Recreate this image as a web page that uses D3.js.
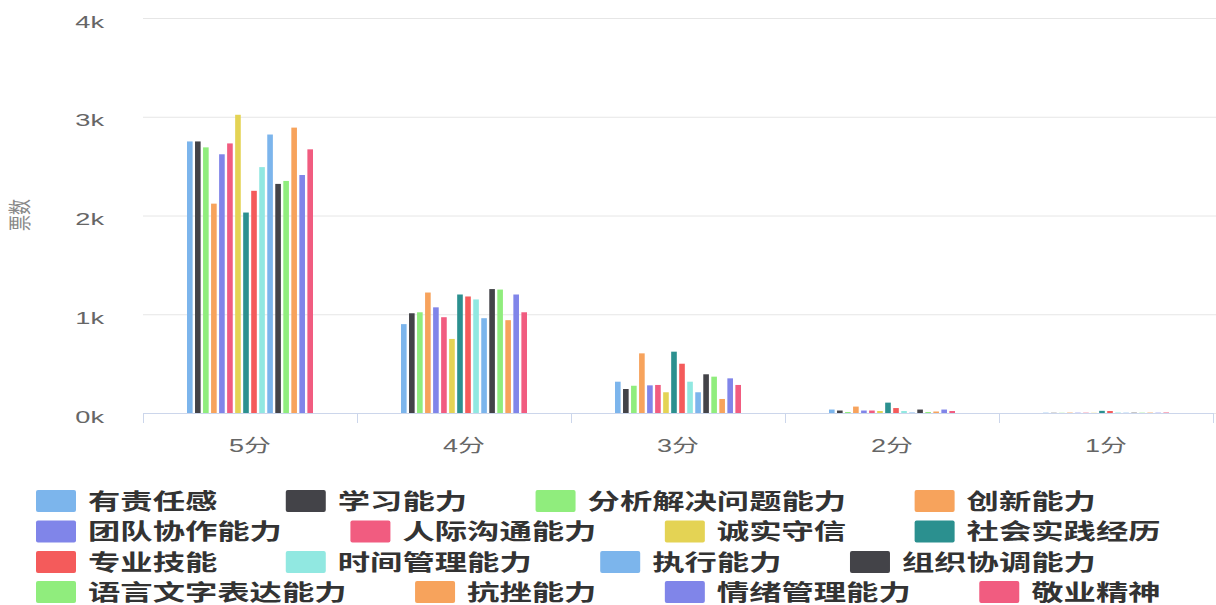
<!DOCTYPE html>
<html>
<head>
<meta charset="utf-8">
<script src="https://cdn.jsdelivr.net/npm/d3@7"></script>
<style>
  html, body { margin: 0; padding: 0; background: #fff; }
  svg { display: block; }
</style>
</head>
<body>
<svg id="chart" width="1216" height="605"></svg>
<script>
// ---------- DATA ----------
const categories = ['5分', '4分', '3分', '2分', '1分'];
const seriesNames = ['有责任感', '学习能力', '分析解决问题能力', '创新能力',
  '团队协作能力', '人际沟通能力', '诚实守信', '社会实践经历',
  '专业技能', '时间管理能力', '执行能力', '组织协调能力',
  '语言文字表达能力', '抗挫能力', '情绪管理能力', '敬业精神'];
const seriesColors = ['#7cb5ec', '#434348', '#90ed7d', '#f7a35c',
  '#8085e9', '#f15c80', '#e4d354', '#2b908f',
  '#f45b5b', '#91e8e1', '#7cb5ec', '#434348',
  '#90ed7d', '#f7a35c', '#8085e9', '#f15c80'];
// votes per score, one value per series (in seriesNames order)
const score5 = [2750, 2750, 2690, 2120, 2620, 2730, 3020, 2030, 2250, 2490, 2820, 2320, 2350, 2890, 2410, 2670];
const score4 = [900, 1010, 1020, 1220, 1070, 970, 750, 1200, 1180, 1150, 960, 1255, 1250, 940, 1200, 1020];
const score3 = [317, 243, 276, 604, 280, 284, 210, 621, 499, 317, 210, 392, 368, 142, 351, 284];
const score2 = [35, 25, 10, 65, 25, 25, 20, 105, 50, 20, 5, 35, 10, 15, 35, 20];
const score1 = [3, 2, 2, 4, 3, 3, 2, 22, 20, 5, 3, 3, 3, 4, 3, 5];
const yTicks = [0, 1000, 2000, 3000, 4000];
const yTitle = '票数';

// ---------- BUILD ----------
const byCategory = [score5, score4, score3, score2, score1];
const svg = d3.select('#chart');
const plot = { left: 143, right: 1213, top: 18, bottom: 413 };
const FONT = '"Liberation Sans", "DejaVu Sans", "Noto Sans CJK SC", sans-serif';
const CJK = '"Noto Sans CJK SC", "Noto Sans", sans-serif';

const x0 = d3.scaleBand().domain(categories).range([plot.left, plot.right]).padding(0);
const bw = x0.bandwidth();
const x1 = d3.scaleBand().domain(seriesNames).range([bw * 0.2, bw * 0.8]).paddingInner(0.3).paddingOuter(0.15);
const y = d3.scaleLinear().domain([0, 4000]).range([plot.bottom, plot.top]);

// gridlines
const grid = svg.append('g').attr('transform', `translate(${plot.left},0)`)
  .call(d3.axisLeft(y).tickValues(yTicks).tickSize(-(1216 - plot.left)).tickFormat(''));
grid.select('.domain').remove();
grid.selectAll('line').attr('stroke', '#e6e6e6').attr('stroke-width', 1);

// y labels
const sxY = 1.6;
const yAx = svg.append('g').attr('transform', `translate(${plot.left},0)`)
  .call(d3.axisLeft(y).tickValues(yTicks).tickSize(0).tickFormat(d => (d / 1000) + 'k'));
yAx.select('.domain').remove();
yAx.selectAll('text')
  .attr('font-family', FONT).attr('font-size', 17).attr('fill', '#666')
  .attr('text-anchor', 'end')
  .attr('x', -39 / sxY).attr('y', 3).attr('dy', '0.36em')
  .attr('transform', `scale(${sxY},1)`);

// y title
svg.append('text')
  .attr('transform', `translate(28,215) scale(1.4,1) rotate(-90)`)
  .attr('text-anchor', 'middle')
  .attr('font-family', CJK).attr('font-size', 16).attr('fill', '#888')
  .text(yTitle);

// bars
const groups = svg.append('g').selectAll('g.cat')
  .data(categories).join('g')
  .attr('class', 'cat')
  .attr('transform', d => `translate(${x0(d)},0)`);
groups.selectAll('rect')
  .data((c, ci) => seriesNames.map((s, si) => ({ s, si, v: byCategory[ci][si] })))
  .join('rect')
  .attr('x', d => x1(d.s))
  .attr('width', x1.bandwidth())
  .attr('y', d => y(d.v))
  .attr('height', d => y(0) - y(d.v))
  .attr('fill', d => seriesColors[d.si]);

// x axis
const sxX = 1.5;
const xAx = svg.append('g').attr('transform', `translate(0,${plot.bottom})`)
  .call(d3.axisBottom(x0).tickSize(0));
xAx.select('.domain').attr('stroke', '#ccd6eb').attr('d', `M${plot.left},0.5H${plot.right}`);
xAx.selectAll('.tick text')
  .attr('font-family', FONT).attr('font-size', 18).attr('fill', '#666')
  .attr('text-anchor', 'middle')
  .attr('x', 0).attr('y', 39).attr('dy', 0)
  .attr('transform', `scale(${sxX},1)`);
// boundary ticks
const bounds = categories.map(c => x0(c)).concat([plot.right]);
xAx.selectAll('line.bound').data(bounds).join('line')
  .attr('class', 'bound')
  .attr('x1', d => Math.round(d) + 0.5).attr('x2', d => Math.round(d) + 0.5)
  .attr('y1', 0).attr('y2', 10)
  .attr('stroke', '#ccd6eb');

// legend
const sxL = 1.47;
const legend = svg.append('g');
const rowY = [501, 531.5, 562, 592];
const perRow = 4;
seriesNames.forEach((name, i) => {
  const row = Math.floor(i / perRow);
  legend.append('g').attr('class', 'li').datum({ name, i, row });
});
let cx = 36, prevRow = -1;
legend.selectAll('g.li').each(function (d) {
  const g = d3.select(this);
  if (d.row !== prevRow) { cx = 36; prevRow = d.row; }
  const cy = rowY[d.row];
  g.append('rect')
    .attr('x', cx).attr('y', cy - 11).attr('width', 40).attr('height', 22)
    .attr('rx', 2).attr('fill', seriesColors[d.i]);
  const t = g.append('text')
    .attr('transform', `translate(${cx + 52},${cy}) scale(${sxL},1)`)
    .attr('dy', '0.36em')
    .attr('font-family', CJK).attr('font-size', 22).attr('font-weight', 'bold')
    .attr('fill', '#333')
    .text(d.name);
  const w = t.node().getComputedTextLength() * sxL;
  cx = cx + 52 + w + 68.5;
});
</script>
</body>
</html>
